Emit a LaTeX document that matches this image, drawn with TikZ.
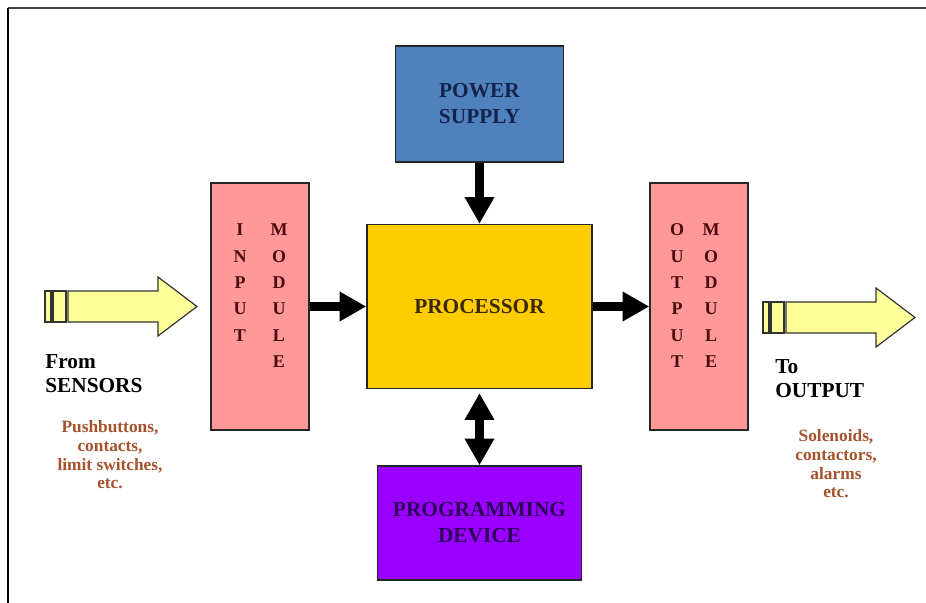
\documentclass[tikz,border=0pt]{standalone}
\usepackage{fontspec}
\setmainfont{Liberation Serif}
\usetikzlibrary{arrows.meta,positioning,calc}
\definecolor{psblue}{RGB}{79,129,189}
\definecolor{procgold}{RGB}{255,204,0}
\definecolor{modpink}{RGB}{255,153,153}
\definecolor{progviolet}{RGB}{153,0,255}
\definecolor{padyellow}{RGB}{255,255,153}
\definecolor{notebrown}{RGB}{165,82,45}
\definecolor{pstext}{RGB}{20,35,75}
\definecolor{proctext}{RGB}{60,40,0}
\definecolor{modtext}{RGB}{75,10,15}
\definecolor{progtext}{RGB}{45,0,90}

\begin{document}
\begin{tikzpicture}[x=0.75pt, y=-0.75pt,
    every node/.style={font=\bfseries},
    blockbox/.style={draw=black!85, line width=1.1pt, inner sep=0pt, align=center,
      font=\fontsize{16}{19.5}\selectfont\bfseries},
    modletter/.style={font=\fontsize{13.5}{13.5}\selectfont\bfseries, text=modtext, inner sep=0pt},
    flow/.style={line width=7pt, -{Triangle[length=20pt, width=21pt]}},
    biflow/.style={line width=7pt, {Triangle[length=20pt, width=21pt]}-{Triangle[length=20pt, width=21pt]}},
    padarrow/.style={draw=black!80, line width=0.9pt, fill=padyellow},
    sidehead/.style={font=\fontsize{16}{18}\selectfont\bfseries, align=left, inner sep=0pt},
    sidenote/.style={font=\fontsize{13}{14}\selectfont\bfseries, text=notebrown, align=center, inner sep=0pt}
  ]
  \useasboundingbox (0,0) rectangle (926,603);
  % frame
  \draw[line width=1.5pt, black!75] (8,8) -- (926,8);
  \draw[line width=2.2pt] (8,8) -- (8,603);

  % blocks
  \node[blockbox, fill=psblue, text=pstext, minimum width=126pt, minimum height=87pt]
    (ps) at (479.5,104) {POWER\\SUPPLY};
  \node[blockbox, fill=procgold, text=proctext, minimum width=168.75pt, minimum height=123pt]
    (proc) at (479.5,306.5) {PROCESSOR};
  \node[blockbox, fill=modpink, minimum width=73.5pt, minimum height=185.25pt]
    (in) at (260,306.5) {};
  \node[blockbox, fill=modpink, minimum width=73.5pt, minimum height=185.25pt]
    (out) at (699,306.5) {};
  \node[blockbox, fill=progviolet, text=progtext, minimum width=153pt, minimum height=85.5pt]
    (prog) at (479.5,523) {PROGRAMMING\\DEVICE};

  % stacked letters
  \foreach \ch [count=\k] in {I,N,P,U,T}
    \node[modletter] (inA\k) at (240, 230+26.3*\k-26.3) {\ch};
  \foreach \ch [count=\k] in {M,O,D,U,L,E}
    \node[modletter] (inB\k) at (279, 230+26.3*\k-26.3) {\ch};
  \foreach \ch [count=\k] in {O,U,T,P,U,T}
    \node[modletter] (outA\k) at (677, 230+26.3*\k-26.3) {\ch};
  \foreach \ch [count=\k] in {M,O,D,U,L,E}
    \node[modletter] (outB\k) at (711, 230+26.3*\k-26.3) {\ch};

  % connectors
  \draw[flow] (ps) -- (proc);
  \draw[flow] (in) -- (proc);
  \draw[flow] (proc) -- (out);
  \draw[biflow, shorten <=3pt] (proc) -- (prog);

  % yellow pad arrows
  \foreach \x/\y in {45/291, 763/302} {
    \draw[padarrow] (\x,\y) rectangle ++(6,31);
    \draw[padarrow] (\x+8,\y) rectangle ++(13,31);
    \draw[padarrow] (\x+23,\y) -- (\x+113,\y) -- (\x+113,\y-14) -- (\x+152,\y+15.5)
      -- (\x+113,\y+45) -- (\x+113,\y+31) -- (\x+23,\y+31) -- cycle;
  }

  % side texts
  \node[sidehead, anchor=west] (from) at (45,374) {From\\SENSORS};
  \node[sidenote] (fromnote) at (110,455) {Pushbuttons,\\contacts,\\limit switches,\\etc.};
  \node[sidehead, anchor=west] (to) at (775,379) {To\\OUTPUT};
  \node[sidenote] (tonote) at (836,464) {Solenoids,\\contactors,\\alarms\\etc.};
\end{tikzpicture}
\end{document}
